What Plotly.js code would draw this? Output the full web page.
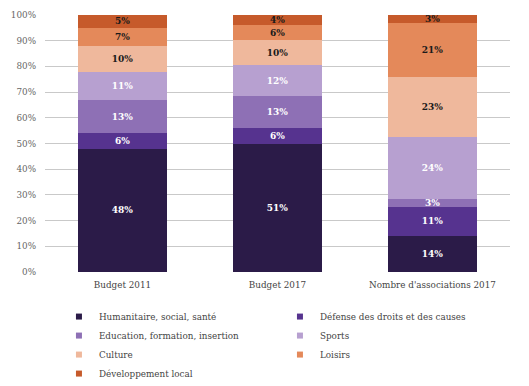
<!DOCTYPE html>
<html>
<head>
<meta charset="utf-8">
<script src="https://cdn.plot.ly/plotly-3.0.1.min.js"></script>
<style>html,body{margin:0;padding:0;background:#fff;}#chart{width:529px;height:386px;}</style>
</head>
<body>
<div id="chart"></div>
<script>
var categories = ["Budget 2011", "Budget 2017", "Nombre d'associations 2017"];
var seriesNames = ["Humanitaire, social, santé", "Défense des droits et des causes", "Education, formation, insertion", "Sports", "Culture", "Loisirs", "Développement local"];
var humanitaire = [48, 51, 14];
var defense = [6, 6, 11];
var education = [13, 13, 3];
var sports = [11, 12, 24];
var culture = [10, 10, 23];
var loisirs = [7, 6, 21];
var developpement = [5, 4, 3];
var yTicks = [0, 10, 20, 30, 40, 50, 60, 70, 80, 90, 100];

var seriesValues = [humanitaire, defense, education, sports, culture, loisirs, developpement];
var colors = ["#2b1b48", "#56338f", "#8e70b5", "#b7a0d0", "#efb89c", "#e4895a", "#c65a2b"];
var textColors = ["#ffffff", "#ffffff", "#ffffff", "#ffffff", "#1a1a1a", "#1a1a1a", "#1a1a1a"];
var FONT = "DejaVu Serif, serif";

var traces = [];
seriesValues.forEach(function (vals, i) {
  traces.push({
    type: "bar",
    x: categories,
    y: vals,
    name: seriesNames[i],
    marker: {color: colors[i], line: {width: 0}},
    text: vals.map(function (v) { return v + "%"; }),
    textposition: "inside",
    insidetextanchor: "middle",
    constraintext: "none",
    textangle: 0,
    textfont: {family: FONT, size: 9, color: textColors[i], weight: "bold"},
    hoverinfo: "skip",
    showlegend: false
  });
});
seriesNames.forEach(function (n, i) {
  traces.push({
    type: "scatter",
    mode: "markers",
    x: [null],
    y: [null],
    name: n,
    marker: {symbol: "square", size: 6, color: colors[i]},
    hoverinfo: "skip",
    showlegend: true
  });
});

var layout = {
  width: 529,
  height: 386,
  margin: {l: 45, r: 19, t: 15, b: 114, autoexpand: false},
  paper_bgcolor: "#ffffff",
  plot_bgcolor: "#ffffff",
  barmode: "stack",
  barnorm: "percent",
  bargap: 0.43,
  font: {family: FONT, size: 8.5, color: "#555555"},
  xaxis: {
    type: "category",
    showgrid: false,
    zeroline: false,
    showline: false,
    ticks: "",
    ticklabelstandoff: 6,
    tickfont: {family: FONT, size: 8.8, color: "#444444"}
  },
  yaxis: {
    range: [0, 100],
    tickvals: yTicks,
    ticktext: yTicks.map(function (t) { return t + "%"; }),
    showgrid: true,
    gridcolor: "#c9c9c9",
    gridwidth: 1,
    zeroline: false,
    showline: false,
    ticks: "",
    ticklabelstandoff: 8,
    tickfont: {family: FONT, size: 8.8, color: "#666666"}
  },
  showlegend: true,
  legend: {
    orientation: "h",
    x: 0.03,
    xanchor: "left",
    y: -0.117,
    yanchor: "top",
    entrywidth: 176,
    entrywidthmode: "pixels",
    tracegroupgap: 0,
    itemwidth: 30,
    font: {family: FONT, size: 8.8, color: "#444444"},
    traceorder: "normal"
  }
};

Plotly.newPlot("chart", traces, layout, {displayModeBar: false, staticPlot: true});
</script>
</body>
</html>
